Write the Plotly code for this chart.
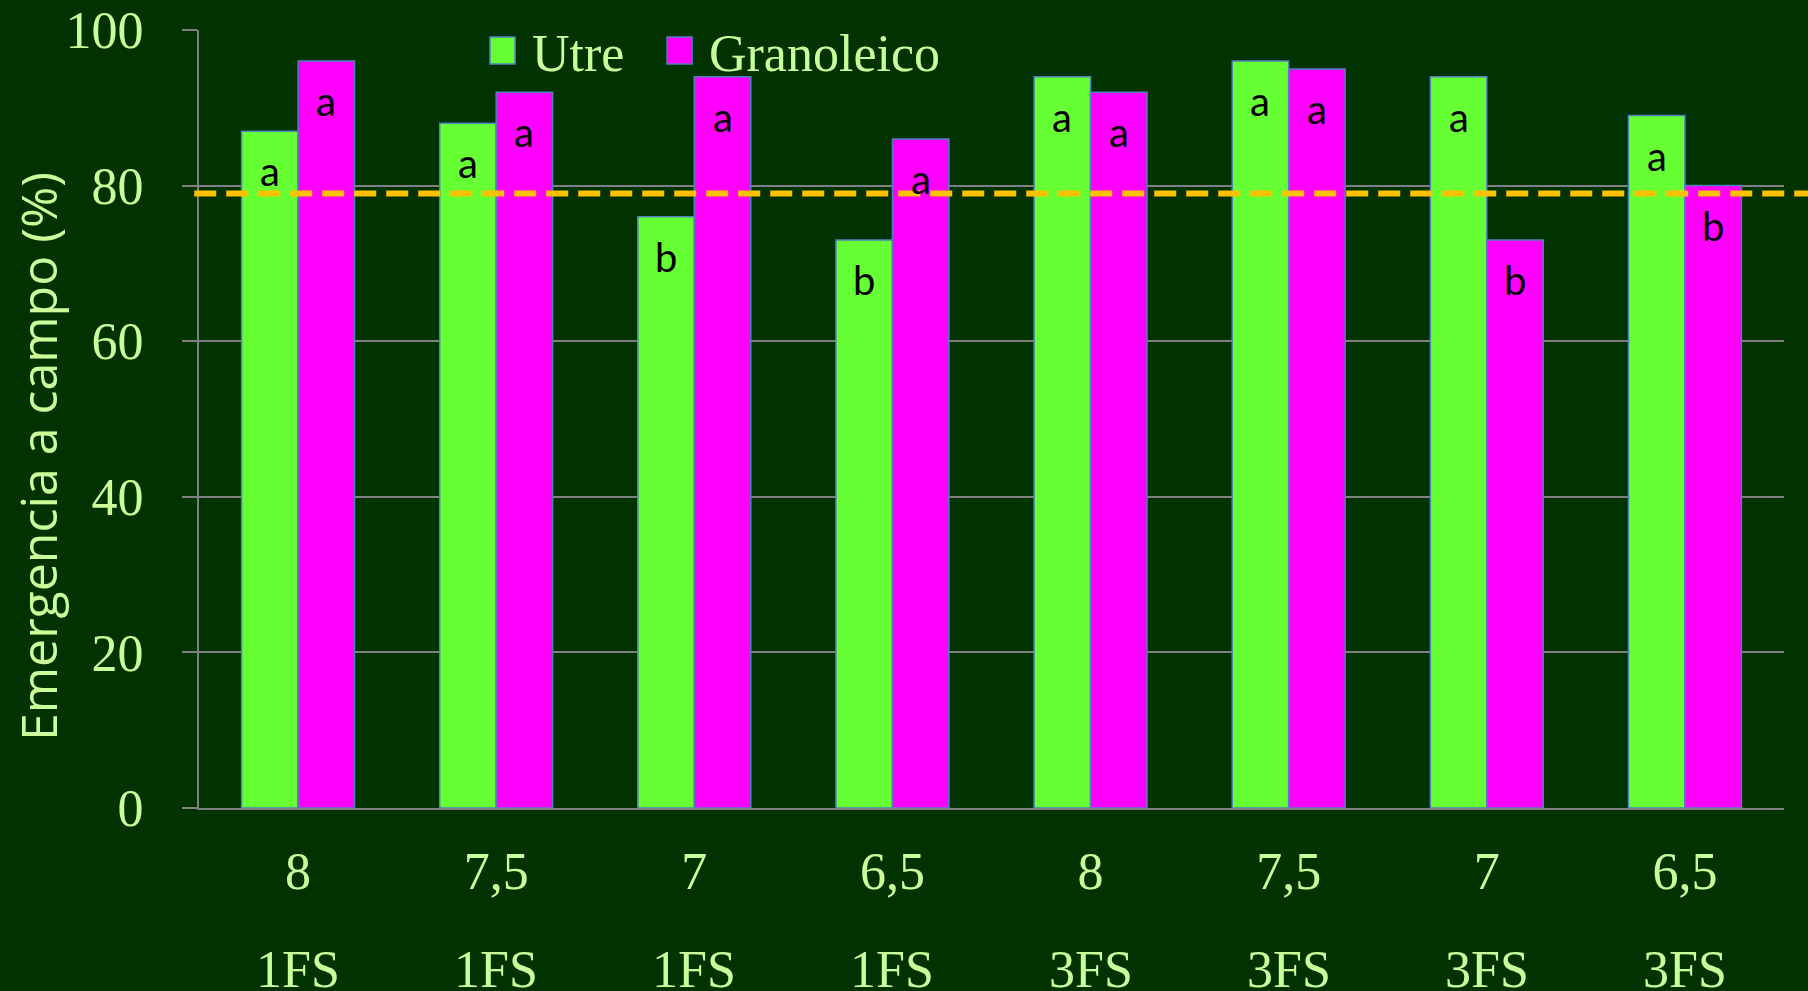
import plotly.graph_objects as go

# ---- data ----
categories = ["8", "7,5", "7", "6,5", "8", "7,5", "7", "6,5"]
groups = ["1FS", "1FS", "1FS", "1FS", "3FS", "3FS", "3FS", "3FS"]
series_names = ["Utre", "Granoleico"]
utre = [87, 88, 76, 73, 94, 96, 94, 89]
granoleico = [96, 92, 94, 86, 92, 95, 73, 80]
utre_letters = ["a", "a", "b", "b", "a", "a", "a", "a"]
granoleico_letters = ["a", "a", "a", "a", "a", "a", "b", "b"]
threshold = 79
y_ticks = [0, 20, 40, 60, 80, 100]

# ---- style ----
BG = "#003300"
TXT = "#CCFF99"
GRID = "#808080"
COLORS = ["#66FF33", "#FF00FF"]
OUTLINE = "#4F81BD"
SERIF = "Liberation Serif, Times New Roman, serif"
SANS = "Open Sans, Lato, sans-serif"
LETTER_FONT = "Lato, Open Sans, sans-serif"
BARGAP = 0.43

pos = list(range(len(categories)))
series = [utre, granoleico]
letters = [utre_letters, granoleico_letters]

fig = go.Figure()
for name, vals, col in zip(series_names, series, COLORS):
    fig.add_trace(go.Bar(
        x=pos, y=vals, name=name, showlegend=False,
        marker=dict(color=col, line=dict(color=OUTLINE, width=1.5)),
    ))

# significance letters centred on each bar, a little below its top
w = (1 - BARGAP) / 2
for k, (vals, labs) in enumerate(zip(series, letters)):
    off = (k - 0.5) * w
    for i, (v, t) in enumerate(zip(vals, labs)):
        fig.add_annotation(x=pos[i] + off, y=v, xref="x", yref="y", text=t,
                           showarrow=False, yanchor="middle", yshift=-40,
                           font=dict(family=LETTER_FONT, size=40, color="black"))

# second row of category labels
for i, g in enumerate(groups):
    fig.add_annotation(x=pos[i], y=-0.207, xref="x", yref="paper",
                       text=g, showarrow=False, yanchor="middle",
                       font=dict(family=SERIF, size=52, color=TXT))

# threshold line
fig.add_shape(type="line", xref="paper", yref="y", x0=-0.003, x1=1.02,
              y0=threshold, y1=threshold,
              line=dict(color="#FFC000", width=6, dash="22px,10px"))

# manual legend
leg_x = [0.1836, 0.2953]
for name, col, lx in zip(series_names, COLORS, leg_x):
    fig.add_shape(type="rect", xref="paper", yref="paper",
                  x0=lx, x1=lx + 0.0158, y0=0.9563, y1=0.991,
                  fillcolor=col, line=dict(color=OUTLINE, width=1.5))
    fig.add_annotation(x=lx + 0.0252, y=0.970, xref="paper", yref="paper",
                       text=name, showarrow=False, xanchor="left", yanchor="middle",
                       font=dict(family=SERIF, size=52, color=TXT))

# y axis title
fig.add_annotation(x=-0.1016, y=0.4524, xref="paper", yref="paper",
                   text="Emergencia a campo (%)", textangle=-90, showarrow=False,
                   xanchor="center", yanchor="middle",
                   font=dict(family=SANS, size=50, color=TXT))

fig.update_layout(
    width=1808, height=991,
    margin=dict(l=199, r=24, t=30, b=183, pad=0, autoexpand=False),
    paper_bgcolor=BG, plot_bgcolor=BG,
    barmode="group", bargap=BARGAP, bargroupgap=0,
    showlegend=False,
)
fig.update_xaxes(
    range=[-0.5, len(categories) - 0.5], tickmode="array",
    tickvals=pos, ticktext=categories, ticks="", showgrid=False,
    showline=True, linecolor=GRID, linewidth=2, zeroline=False, automargin=False,
    tickfont=dict(family=SERIF, size=52, color=TXT), ticklabelstandoff=17,
)
fig.update_yaxes(
    range=[0, 100], tickmode="array", tickvals=y_ticks,
    showgrid=True, gridcolor=GRID, gridwidth=2, zeroline=False,
    showline=True, linecolor=GRID, linewidth=2, automargin=False,
    ticks="outside", ticklen=15, tickcolor=GRID, tickwidth=2,
    tickfont=dict(family=SERIF, size=52, color=TXT), ticklabelstandoff=28,
)

fig.write_html("out.html", config={"displayModeBar": False},
               post_script="document.body.style.margin='0';document.body.style.overflow='hidden';")
